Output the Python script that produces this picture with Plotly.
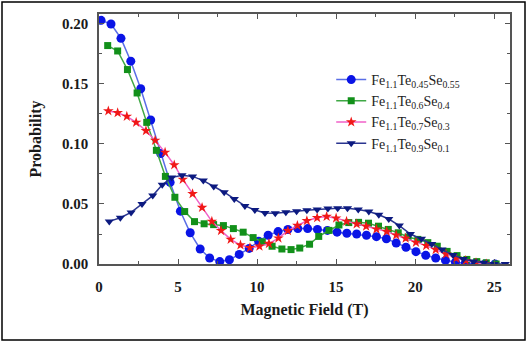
import plotly.graph_objects as go

# ---- data ----
blue_x = [0.13, 0.76, 1.39, 2.01, 2.64, 3.27, 3.9, 4.5, 5.15, 5.77, 6.4, 7.0, 7.64, 8.25, 8.87,
          9.5, 10.1, 10.7, 11.33, 11.95, 12.58, 13.2, 13.82, 14.45, 15.06, 15.68, 16.3, 16.92,
          17.55, 18.18, 18.8, 19.42, 20.05, 20.67, 21.3, 21.92, 22.55, 23.17, 23.8, 24.42, 25.05]
blue_y = [0.203, 0.200, 0.188, 0.169, 0.146, 0.120, 0.092, 0.068, 0.044, 0.026, 0.0125, 0.005,
          0.002, 0.0035, 0.008, 0.013, 0.019, 0.024, 0.027, 0.0287, 0.0295, 0.0295, 0.0288,
          0.028, 0.0265, 0.0256, 0.025, 0.024, 0.0228, 0.021, 0.0175, 0.014, 0.0103, 0.0072,
          0.005, 0.003, 0.0015, 0.0007, 0.0003, 0.0001, 0.0]

green_x = [0.55, 1.18, 1.8, 2.41, 3.02, 3.63, 4.2, 4.8, 5.42, 6.04, 6.65, 7.25, 7.87, 8.5, 9.12,
           9.75, 10.33, 10.95, 11.57, 12.15, 12.7, 13.32, 13.9, 14.55, 15.18, 15.8, 16.42, 17.05,
           17.68, 18.3, 18.93, 19.55, 20.17, 20.8, 21.4, 22.02, 22.65, 23.27, 23.9, 24.5, 25.12]
green_y = [0.182, 0.1775, 0.162, 0.1425, 0.118, 0.0947, 0.073, 0.0556, 0.0437, 0.0353, 0.0335,
           0.0328, 0.032, 0.0295, 0.0265, 0.022, 0.0185, 0.0148, 0.0125, 0.012, 0.0133, 0.0165,
           0.023, 0.028, 0.0325, 0.0345, 0.0347, 0.034, 0.0315, 0.0288, 0.026, 0.0225, 0.0205,
           0.0178, 0.0148, 0.0105, 0.007, 0.0038, 0.002, 0.001, 0.0]

red_x = [0.59, 1.18, 1.76, 2.35, 2.97, 3.55, 4.18, 4.76, 5.3, 5.92, 6.52, 7.14, 7.72, 8.33, 8.95,
         9.55, 10.15, 10.75, 11.35, 11.95, 12.55, 13.15, 13.8, 14.4, 15.0, 15.66, 16.3, 16.9,
         17.55, 18.2, 18.8, 19.4, 20.05, 20.7, 21.3, 21.95, 22.6, 23.2, 23.85, 24.5]
red_y = [0.1275, 0.126, 0.123, 0.118, 0.111, 0.103, 0.093, 0.0825, 0.0705, 0.0585, 0.047, 0.0355,
         0.0278, 0.0205, 0.0158, 0.0135, 0.0148, 0.017, 0.0215, 0.0277, 0.032, 0.036, 0.0385,
         0.0395, 0.0382, 0.0355, 0.0333, 0.0314, 0.029, 0.027, 0.024, 0.0214, 0.018, 0.0153,
         0.012, 0.0083, 0.0047, 0.0028, 0.001, 0.0]

navy_x = [0.65, 1.35, 2.03, 2.72, 3.4, 4.0, 4.6, 5.25, 5.92, 6.6, 7.26, 7.92, 8.56, 9.23, 9.86,
          10.5, 11.15, 11.82, 12.5, 13.15, 13.8, 14.48, 15.1, 15.72, 16.4, 17.07, 17.7, 18.33,
          19.0, 19.7, 20.4, 21.05, 21.7, 22.4, 23.05, 23.7, 24.35, 25.0, 25.7]
navy_y = [0.0355, 0.0385, 0.043, 0.050, 0.057, 0.066, 0.072, 0.074, 0.073, 0.0695, 0.0645, 0.0598,
          0.0542, 0.0484, 0.045, 0.0425, 0.0422, 0.0432, 0.044, 0.0448, 0.0455, 0.0462, 0.0464,
          0.0464, 0.0455, 0.0438, 0.041, 0.0375, 0.032, 0.025, 0.021, 0.0167, 0.012, 0.0075,
          0.0042, 0.002, 0.001, 0.0, 0.0]

names = ["Fe<sub>1.1</sub>Te<sub>0.45</sub>Se<sub>0.55</sub>",
         "Fe<sub>1.1</sub>Te<sub>0.6</sub>Se<sub>0.4</sub>",
         "Fe<sub>1.1</sub>Te<sub>0.7</sub>Se<sub>0.3</sub>",
         "Fe<sub>1.1</sub>Te<sub>0.9</sub>Se<sub>0.1</sub>"]

x_ticks = [0, 5, 10, 15, 20, 25]
y_ticks = [0.00, 0.05, 0.10, 0.15, 0.20]
y_tick_text = ["0.00", "0.05", "0.10", "0.15", "0.20"]

W, H = 528, 343
L, R, T, B = 99, 18, 14, 79

fig = go.Figure()
series = [
    (blue_x, blue_y, names[0], "#0a14e6", "#5a6ee6", "circle", 9),
    (green_x, green_y, names[1], "#12901a", "#3fa845", "square", 7),
    (red_x, red_y, names[2], "#f01818", "#f060c8", "star", 8),
    (navy_x, navy_y, names[3], "#0c1a80", "#2a3590", "triangle-down", 8),
]
for xs, ys, nm, mc, lc, sym, sz in series:
    fig.add_trace(go.Scatter(
        x=xs, y=ys, name=nm, mode="lines+markers",
        line=dict(color=lc, width=1.5),
        marker=dict(color=mc, symbol=sym, size=sz, line=dict(width=0)),
    ))

axis_font = dict(family="Liberation Serif", size=16, color="#1a1a1a")
fig.update_layout(
    width=W, height=H,
    margin=dict(l=L, r=R, t=T, b=B),
    paper_bgcolor="white", plot_bgcolor="white",
    showlegend=True,
    legend=dict(
        x=0.565, y=0.80, xanchor="left", yanchor="top",
        bgcolor="rgba(0,0,0,0)", borderwidth=0,
        font=dict(family="Liberation Serif", size=14, color="#222"),
        itemwidth=30, tracegroupgap=0,
    ),
    xaxis=dict(
        range=[0, 26], tickvals=x_ticks, ticks="inside", ticklen=5, tickwidth=1.2,
        tickcolor="#555", showline=True, linecolor="#555", linewidth=1.5, mirror="ticks",
        showgrid=False, zeroline=False,
        tickfont=dict(family="Liberation Serif", size=15, color="#1a1a1a", weight="bold"),
        ticklabelstandoff=8,
        minor=dict(dtick=2.5, tick0=0, ticks="inside", ticklen=3, tickcolor="#555", showgrid=False),
        title=dict(text="<b>Magnetic Field (T)</b>", font=axis_font, standoff=10),
    ),
    yaxis=dict(
        range=[0, 0.2083], tickvals=y_ticks, ticktext=y_tick_text, ticks="inside", ticklen=5,
        tickwidth=1.2, tickcolor="#555", showline=True, linecolor="#555", linewidth=1.5,
        mirror="ticks", showgrid=False, zeroline=False,
        tickfont=dict(family="Liberation Serif", size=15, color="#1a1a1a", weight="bold"),
        ticklabelstandoff=6,
        minor=dict(dtick=0.025, tick0=0, ticks="inside", ticklen=3, tickcolor="#555", showgrid=False),
        title=dict(text="<b>Probability</b>", font=axis_font, standoff=16),
    ),
)

# outer frame of the picture
pw, ph = W - L - R, H - T - B
def px(v):
    return (v - L) / pw
def py(v):
    return (H - B - v) / ph
fig.add_shape(type="rect", xref="paper", yref="paper",
              x0=px(2), x1=px(525), y0=py(340), y1=py(2),
              line=dict(color="black", width=1.5), fillcolor="rgba(0,0,0,0)", layer="below")

fig.write_html("out.html")
